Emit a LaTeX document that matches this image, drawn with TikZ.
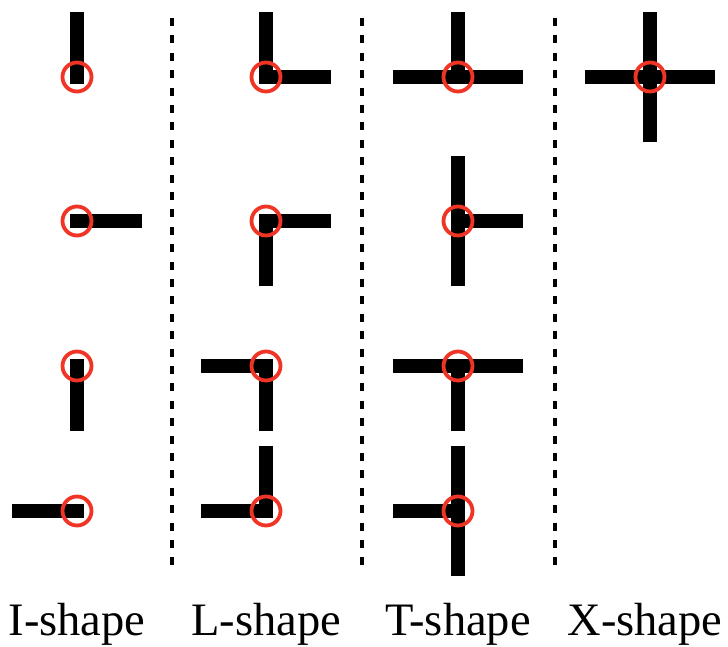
\documentclass[tikz,border=0pt]{standalone}
\usepackage{fontspec}
\setmainfont{Liberation Serif}
\usetikzlibrary{positioning, calc}

\begin{document}
\begin{tikzpicture}[x=1pt, y=1pt, font=\fontsize{46.5}{50}\selectfont,
        arm/.style={line width=14pt, line cap=butt},
        joint/.style={circle, draw=jointred, line width=3.8pt, minimum size=29pt, inner sep=0pt},
        divider/.style={line width=4.5pt, dash pattern=on 8pt off 9.4pt}]
        % Define colors
        \definecolor{jointred}{RGB}{240, 52, 38}

        \useasboundingbox (0,0) rectangle (728,646);

        % Junction points
        \foreach \col/\x in {i/77, l/266, t/458} {
            \foreach \row/\y in {1/569, 2/425, 3/280, 4/135} {
                \coordinate (\col\row) at (\x,\y);
            }
        }
        \coordinate (x1) at (650,569);

        % Arms (junction / direction)
        \foreach \c/\a in {i1/90, i2/0, i3/270, i4/180,
                l1/90, l1/0, l2/0, l2/270, l3/180, l3/270, l4/180, l4/90,
                t1/180, t1/0, t1/90, t2/90, t2/270, t2/0,
                t3/180, t3/0, t3/270, t4/90, t4/270, t4/180,
                x1/0, x1/90, x1/180, x1/270} {
            \draw[arm] (\c) ++(\a+180:7) -- ++(\a:72);
        }

        % Red circles on the junctions
        \foreach \c in {i1,i2,i3,i4,l1,l2,l3,l4,t1,t2,t3,t4,x1} {
            \node[joint] (\c joint) at (\c) {};
        }

        % Dashed separators
        \foreach \d/\x in {1/172, 2/362, 3/555} {
            \coordinate (sep\d top) at (\x,628);
            \coordinate (sep\d bot) at (\x,81);
            \draw[divider] (sep\d top) -- (sep\d bot);
        }

        % Labels
        \node[anchor=base] (ilabel) at (77,11) {I-shape};
        \node[anchor=base] (llabel) at (266,11) {L-shape};
        \node[anchor=base] (tlabel) at (458,11) {T-shape};
        \node[anchor=base] (xlabel) at (645,11) {X-shape};
    \end{tikzpicture}
\end{document}
